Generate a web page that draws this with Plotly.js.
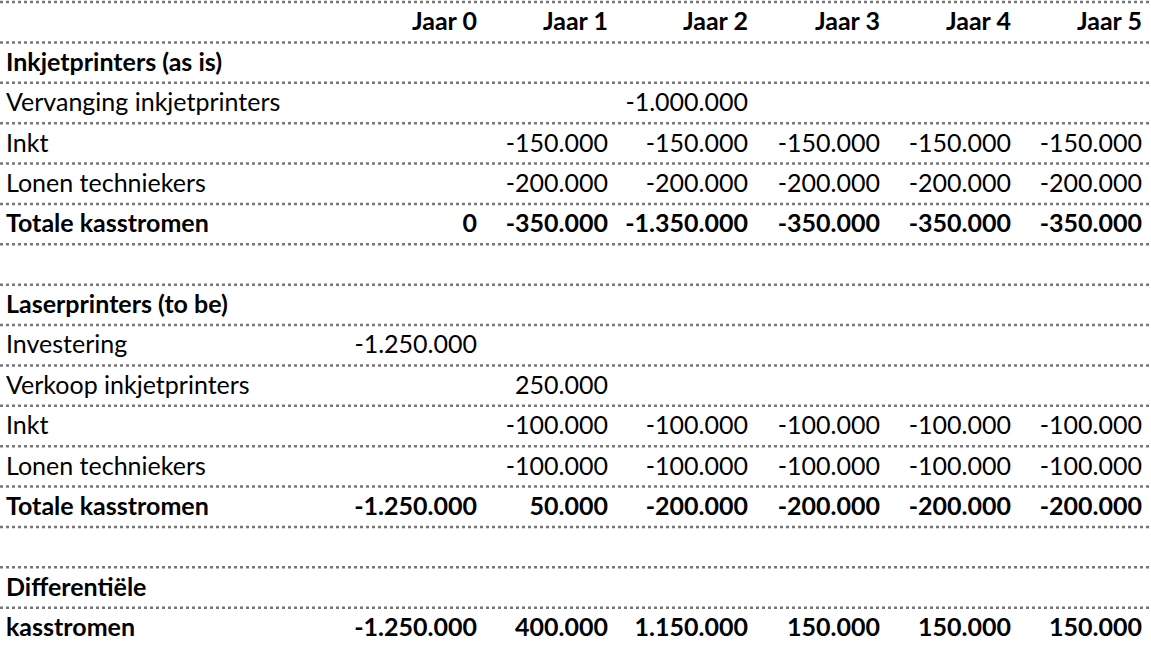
<!DOCTYPE html>
<html>
<head>
<meta charset="utf-8">
<script src="https://cdn.plot.ly/plotly-3.0.1.min.js"></script>
<style>body{margin:0;background:#fff}#chart{width:1151px;height:646px}</style>
</head>
<body>
<div id="chart"></div>
<script>
const years = ['Jaar 0', 'Jaar 1', 'Jaar 2', 'Jaar 3', 'Jaar 4', 'Jaar 5']

const ink_vervanging = [null, null, -1000000, null, null, null]
const ink_inkt = [null, -150000, -150000, -150000, -150000, -150000]
const ink_lonen = [null, -200000, -200000, -200000, -200000, -200000]
const ink_totaal = [0, -350000, -1350000, -350000, -350000, -350000]

const las_investering = [-1250000, null, null, null, null, null]
const las_verkoop = [null, 250000, null, null, null, null]
const las_inkt = [null, -100000, -100000, -100000, -100000, -100000]
const las_lonen = [null, -100000, -100000, -100000, -100000, -100000]
const las_totaal = [-1250000, 50000, -200000, -200000, -200000, -200000]

const differentieel = [-1250000, 400000, 1150000, 150000, 150000, 150000]

// [label, values, bold]
const rows = [
    ['', null, true],
    ['Inkjetprinters (as is)', null, true],
    ['Vervanging inkjetprinters', ink_vervanging, false],
    ['Inkt', ink_inkt, false],
    ['Lonen techniekers', ink_lonen, false],
    ['Totale kasstromen', ink_totaal, true],
    ['', null, false],
    ['Laserprinters (to be)', null, true],
    ['Investering', las_investering, false],
    ['Verkoop inkjetprinters', las_verkoop, false],
    ['Inkt', las_inkt, false],
    ['Lonen techniekers', las_lonen, false],
    ['Totale kasstromen', las_totaal, true],
    ['', null, false],
    ['Differentiële', null, true],
    ['kasstromen', differentieel, true],
]

// right edge of each year column, in pixels
const col_right = [477, 608, 748, 880, 1011, 1142]

function fmt(v) {
    if (v === null) return ''
    const s = Math.abs(v).toString().replace(/\B(?=(\d{3})+(?!\d))/g, '.')
    return (v < 0 ? '-' : '') + s
}

function b(s, bold) { return bold && s ? '<b>' + s + '</b>' : s }

const font = {family: 'Lato, Calibri, sans-serif', size: 25, color: '#000'}
const traces = []

// label column
traces.push({
    type: 'scatter', mode: 'text',
    x: rows.map(r => 6), y: rows.map((r, i) => i + 0.6),
    text: rows.map(r => b(r[0], r[2])),
    textposition: 'middle right', textfont: font,
    hoverinfo: 'skip'
})

// year columns
for (let c = 0; c < years.length; c++) {
    traces.push({
        type: 'scatter', mode: 'text',
        x: rows.map(r => col_right[c]), y: rows.map((r, i) => i + 0.6),
        text: rows.map((r, i) => i === 0 ? b(years[c], true) : (r[1] ? b(fmt(r[1][c]), r[2]) : '')),
        textposition: 'middle left', textfont: font,
        hoverinfo: 'skip'
    })
}

const shapes = []
for (let i = 0; i <= rows.length; i++) {
    shapes.push({
        type: 'line', xref: 'x', yref: 'y',
        x0: 0, x1: 1151, y0: i + 0.05, y1: i + 0.05,
        line: {color: '#777', width: 2.5, dash: 'dot'}
    })
}

Plotly.newPlot('chart', traces, {
    width: 1151, height: 646,
    showlegend: false,
    margin: {t: 0, r: 0, b: 0, l: 0},
    paper_bgcolor: '#fff', plot_bgcolor: '#fff',
    xaxis: {range: [0, 1151], visible: false, fixedrange: true},
    yaxis: {range: [16, 0], visible: false, fixedrange: true},
    shapes: shapes,
}, {displayModeBar: false, staticPlot: true})
</script>
</body>
</html>
